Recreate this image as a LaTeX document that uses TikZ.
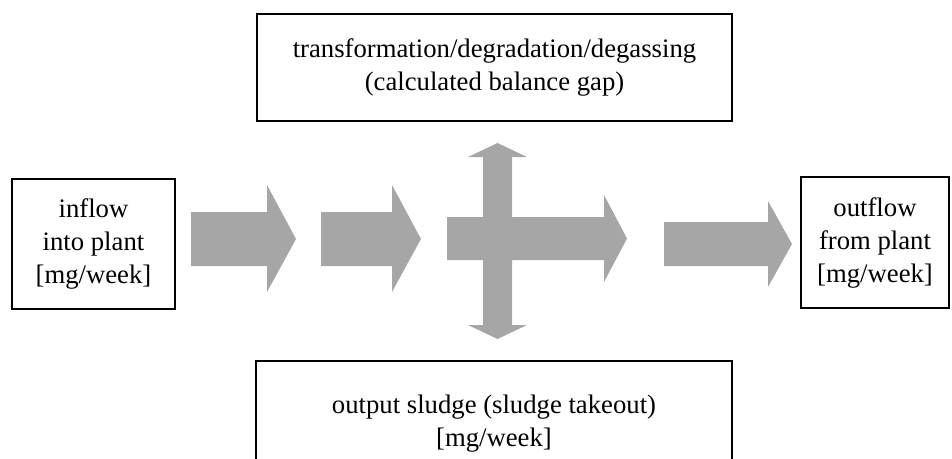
\documentclass[tikz,border=0pt]{standalone}
\usepackage{fontspec}
\setmainfont{Liberation Serif}
\definecolor{arrowgray}{HTML}{A6A6A6}
\begin{document}
\begin{tikzpicture}[x=1pt,y=-1pt,
  boxtext/.style={font=\fontsize{26.7}{33}\selectfont, align=center},
  box/.style={boxtext, draw=black, line width=1.5pt, inner sep=0pt},
  txt/.style={boxtext, inner sep=0pt},
  flow/.style={fill=arrowgray, draw=none}]
\useasboundingbox (0,0) rectangle (952,458);
% boxes
\node[box, minimum width=163pt, minimum height=130pt] (inflow) at (93.5,244)
  {inflow\\into plant\\{[mg/week]}};
\node[box, minimum width=148pt, minimum height=131pt] (outflow) at (875,242.5)
  {outflow\\from plant\\{[mg/week]}};
\node[box, minimum width=475pt, minimum height=107pt] (gap) at (494.5,67.5)
  {transformation/degradation/degassing\\(calculated balance gap)};
\coordinate (sl) at (256,461);
\coordinate (sr) at (732,461);
\draw[line width=1.5pt] (sl) |- (494,361) -| (sr);
\node[txt] (sludge) at (494,424) {output sludge (sludge takeout)\\{[mg/week]}};
% arrows
\fill[flow] (191,212) -- (267,212) -- (267,185) -- (296,239) -- (267,292) -- (267,266) -- (191,266) -- cycle;
\fill[flow] (321,212) -- (392,212) -- (392,185) -- (421,239) -- (392,292) -- (392,266) -- (321,266) -- cycle;
\fill[flow] (447,217) -- (483,217) -- (483,157) -- (468,157) -- (497.5,143) -- (527,157) -- (512,157)
  -- (512,217) -- (604,217) -- (604,195) -- (627,238.5) -- (604,282) -- (604,260) -- (512,260)
  -- (512,325) -- (527,325) -- (497.5,339) -- (468,325) -- (483,325) -- (483,260) -- (447,260) -- cycle;
\fill[flow] (664,222) -- (768,222) -- (768,201) -- (792,244) -- (768,287) -- (768,266) -- (664,266) -- cycle;
\end{tikzpicture}
\end{document}
